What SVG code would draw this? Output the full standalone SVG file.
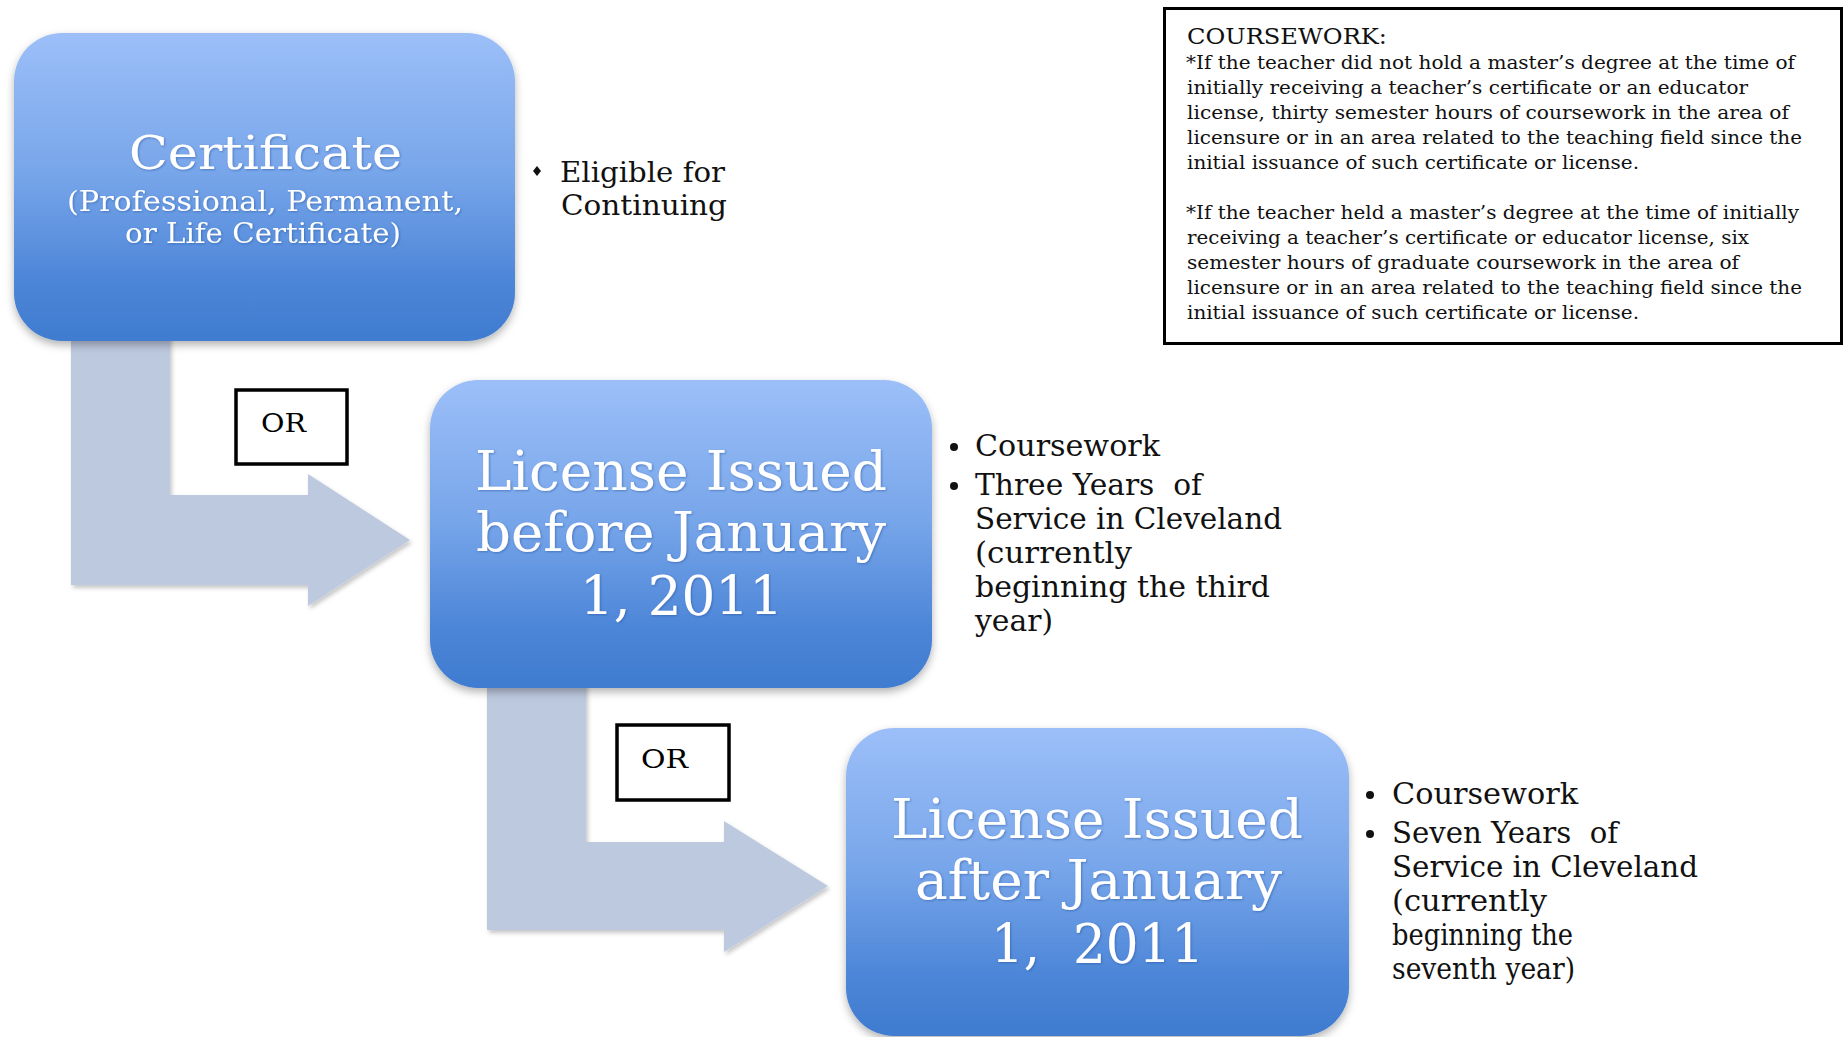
<svg xmlns="http://www.w3.org/2000/svg" width="1843" height="1037" viewBox="0 0 1843 1037">
<defs>
<linearGradient id="boxGrad" x1="0" y1="0" x2="0" y2="1">
<stop offset="0" stop-color="#9cbff8"/>
<stop offset="0.45" stop-color="#78a6ea"/>
<stop offset="0.8" stop-color="#4d86d8"/>
<stop offset="1" stop-color="#3f7bcf"/>
</linearGradient>
<filter id="boxShadow" x="-10%" y="-10%" width="120%" height="125%">
<feDropShadow dx="0" dy="4" stdDeviation="4" flood-color="#000" flood-opacity="0.3"/>
</filter>
<filter id="arrowShadow" x="-10%" y="-10%" width="125%" height="125%">
<feDropShadow dx="2" dy="3" stdDeviation="2" flood-color="#000" flood-opacity="0.22"/>
</filter>
<filter id="textShadow" x="-5%" y="-20%" width="110%" height="140%">
<feDropShadow dx="1" dy="1" stdDeviation="1" flood-color="#1f4f96" flood-opacity="0.5"/>
</filter>
</defs>
<style>
.box{fill:url(#boxGrad);filter:url(#boxShadow)}
.arrow{fill:#bdc9df;filter:url(#arrowShadow)}
.orbox{fill:#fff;stroke:#000;stroke-width:3.5}
.ortext{font-family:"DejaVu Serif","Liberation Serif",serif;font-size:26px;fill:#000}
.big{font-family:"DejaVu Serif","Liberation Serif",serif;font-size:54px;fill:#fff;filter:url(#textShadow)}
.title{font-family:"DejaVu Serif","Liberation Serif",serif;font-size:46px;fill:#fff;filter:url(#textShadow)}
.sub{font-family:"DejaVu Serif","Liberation Serif",serif;font-size:27px;fill:#fff;filter:url(#textShadow)}
.bul{font-family:"DejaVu Serif","Liberation Serif",serif;font-size:30px;fill:#111;white-space:pre}
.bul1{font-family:"DejaVu Serif","Liberation Serif",serif;font-size:28px;fill:#111}
.dot{fill:#111}
.note{fill:#fff;stroke:#000;stroke-width:3}
.nhead{font-family:"DejaVu Serif","Liberation Serif",serif;font-size:22px;fill:#111}
.ntext{font-family:"DejaVu Serif","Liberation Serif",serif;font-size:19px;fill:#111}
</style>
<rect width="1843" height="1037" fill="#fff"/>

<g id="connectors">
<path class="arrow" d="M71 300 H170 V495 H308 V474 L410 540 L308 606 V585 H71 Z"/>
<path class="arrow" d="M487 648 H586 V842 H724 V821 L828 886 L724 952 V930 H487 Z"/>
<g id="or-label-1">
<rect class="orbox" x="236" y="390" width="111" height="74"/>
<text class="ortext" x="261" y="432" textLength="45" lengthAdjust="spacingAndGlyphs">OR</text>
</g>
<g id="or-label-2">
<rect class="orbox" x="617" y="725" width="112" height="75"/>
<text class="ortext" x="641" y="768" textLength="47" lengthAdjust="spacingAndGlyphs">OR</text>
</g>
</g>

<g id="node-certificate">
<rect class="box" x="14" y="33" width="501" height="308" rx="48"/>
<text class="title" x="129" y="169" textLength="273" lengthAdjust="spacingAndGlyphs">Certificate</text>
<text class="sub" x="67" y="211" textLength="396" lengthAdjust="spacingAndGlyphs">(Professional, Permanent,</text>
<text class="sub" x="125" y="243" textLength="276" lengthAdjust="spacingAndGlyphs">or Life Certificate)</text>
</g>

<g id="node-license-before">
<rect class="box" x="430" y="380" width="502" height="308" rx="48"/>
<text class="big" x="475" y="490" textLength="412" lengthAdjust="spacingAndGlyphs">License Issued</text>
<text class="big" x="476" y="551" textLength="410" lengthAdjust="spacingAndGlyphs">before January</text>
<text class="big" x="580" y="615" textLength="203" lengthAdjust="spacingAndGlyphs">1, 2011</text>
</g>

<g id="node-license-after">
<rect class="box" x="846" y="728" width="503" height="308" rx="48"/>
<text class="big" x="891" y="838" textLength="412" lengthAdjust="spacingAndGlyphs">License Issued</text>
<text class="big" x="915" y="899" textLength="367" lengthAdjust="spacingAndGlyphs">after January</text>
<text class="big" x="991" y="963" textLength="213" lengthAdjust="spacingAndGlyphs" xml:space="preserve">1,  2011</text>
</g>

<g id="bullets-certificate">
<polygon class="dot" points="537,166 541,171 537,176 533,171"/>
<text class="bul1" x="560" y="182" textLength="165" lengthAdjust="spacingAndGlyphs">Eligible for</text>
<text class="bul1" x="561" y="215" textLength="166" lengthAdjust="spacingAndGlyphs">Continuing</text>
</g>

<g id="bullets-license-before">
<circle class="dot" cx="954" cy="447" r="4"/>
<circle class="dot" cx="954" cy="486" r="4"/>
<text class="bul" x="975" y="456" textLength="185" lengthAdjust="spacingAndGlyphs">Coursework</text>
<text class="bul" x="975" y="495" textLength="227" lengthAdjust="spacingAndGlyphs" xml:space="preserve">Three Years  of</text>
<text class="bul" x="975" y="529" textLength="307" lengthAdjust="spacingAndGlyphs">Service in Cleveland</text>
<text class="bul" x="975" y="563" textLength="157" lengthAdjust="spacingAndGlyphs">(currently</text>
<text class="bul" x="975" y="597" textLength="295" lengthAdjust="spacingAndGlyphs">beginning the third</text>
<text class="bul" x="975" y="631" textLength="78" lengthAdjust="spacingAndGlyphs">year)</text>
</g>

<g id="bullets-license-after">
<circle class="dot" cx="1370" cy="795" r="4"/>
<circle class="dot" cx="1370" cy="834" r="4"/>
<text class="bul" x="1392" y="804" textLength="186" lengthAdjust="spacingAndGlyphs">Coursework</text>
<text class="bul" x="1392" y="843" textLength="226" lengthAdjust="spacingAndGlyphs" xml:space="preserve">Seven Years  of</text>
<text class="bul" x="1392" y="877" textLength="306" lengthAdjust="spacingAndGlyphs">Service in Cleveland</text>
<text class="bul" x="1392" y="911" textLength="155" lengthAdjust="spacingAndGlyphs">(currently</text>
<text class="bul" x="1392" y="945" textLength="181" lengthAdjust="spacingAndGlyphs">beginning the</text>
<text class="bul" x="1392" y="979" textLength="183" lengthAdjust="spacingAndGlyphs">seventh year)</text>
</g>

<g id="coursework-note">
<rect class="note" x="1164.5" y="8.5" width="677" height="335"/>
<text class="nhead" x="1187" y="44" textLength="200" lengthAdjust="spacingAndGlyphs">COURSEWORK:</text>
<text class="ntext" x="1186" y="69" textLength="609" lengthAdjust="spacingAndGlyphs">*If the teacher did not hold a master’s degree at the time of</text>
<text class="ntext" x="1187" y="94" textLength="561" lengthAdjust="spacingAndGlyphs">initially receiving a teacher’s certificate or an educator</text>
<text class="ntext" x="1187" y="119" textLength="602" lengthAdjust="spacingAndGlyphs">license, thirty semester hours of coursework in the area of</text>
<text class="ntext" x="1187" y="144" textLength="615" lengthAdjust="spacingAndGlyphs">licensure or in an area related to the teaching field since the</text>
<text class="ntext" x="1187" y="169" textLength="452" lengthAdjust="spacingAndGlyphs">initial issuance of such certificate or license.</text>
<text class="ntext" x="1186" y="219" textLength="613" lengthAdjust="spacingAndGlyphs">*If the teacher held a master’s degree at the time of initially</text>
<text class="ntext" x="1187" y="244" textLength="562" lengthAdjust="spacingAndGlyphs">receiving a teacher’s certificate or educator license, six</text>
<text class="ntext" x="1187" y="269" textLength="552" lengthAdjust="spacingAndGlyphs">semester hours of graduate coursework in the area of</text>
<text class="ntext" x="1187" y="294" textLength="615" lengthAdjust="spacingAndGlyphs">licensure or in an area related to the teaching field since the</text>
<text class="ntext" x="1187" y="319" textLength="452" lengthAdjust="spacingAndGlyphs">initial issuance of such certificate or license.</text>
</g>
</svg>
